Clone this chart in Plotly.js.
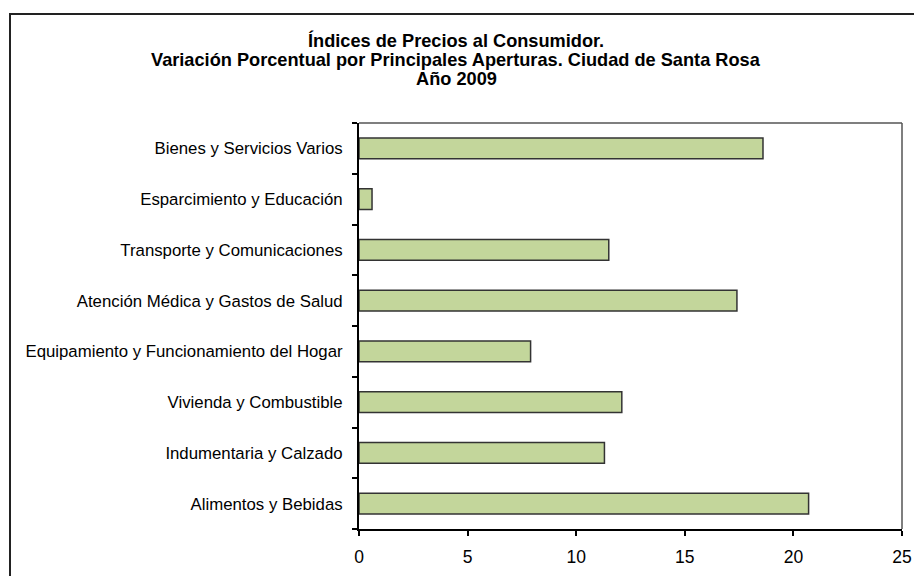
<!DOCTYPE html>
<html>
<head>
<meta charset="utf-8">
<script src="https://cdn.plot.ly/plotly-3.0.1.min.js"></script>
<style>
html,body{margin:0;padding:0;background:#fff;overflow:hidden;}
#chart{width:914px;height:576px;}
</style>
</head>
<body>
<div id="chart"></div>
<script>
var categories = [
  "Alimentos y Bebidas",
  "Indumentaria y Calzado",
  "Vivienda y Combustible",
  "Equipamiento y Funcionamiento del Hogar",
  "Atención Médica y Gastos de Salud",
  "Transporte y Comunicaciones",
  "Esparcimiento y Educación",
  "Bienes y Servicios Varios"
];
var values = [20.7, 11.3, 12.1, 7.9, 17.4, 11.5, 0.6, 18.6];
var xTickVals = [0, 5, 10, 15, 20, 25];
var titleLines = [
  "Índices de Precios al Consumidor.",
  "Variación Porcentual por Principales Aperturas. Ciudad de Santa Rosa",
  "Año 2009"
];

var W = 914, H = 576;
var mL = 359, mR = 12, mT = 123, mB = 47;
var pw = W - mL - mR, ph = H - mT - mB;
var FONT = "Liberation Sans, Arial, sans-serif";

function px2x(p) { return (p - mL) / pw; }
function px2y(p) { return (H - mB - p) / ph; }

var titleY = [40, 59.5, 79];
var annotations = titleLines.map(function (t, i) {
  return {
    text: "<b>" + t + "</b>", showarrow: false,
    xref: "paper", yref: "paper",
    x: px2x(456), y: px2y(titleY[i]),
    xanchor: "center", yanchor: "middle",
    font: {family: FONT, size: 18.2, color: "#000"}
  };
});

var trace = {
  type: "bar",
  orientation: "h",
  x: values,
  y: categories,
  marker: {color: "#C3D69B", line: {color: "#333333", width: 1.5}},
  hoverinfo: "x+y"
};

var layout = {
  width: W, height: H,
  margin: {l: mL, r: mR, t: mT, b: mB, pad: 0},
  paper_bgcolor: "#ffffff",
  plot_bgcolor: "#ffffff",
  showlegend: false,
  bargap: 0.59,
  font: {family: FONT, size: 16.5, color: "#000"},
  annotations: annotations,
  xaxis: {
    range: [0, 25],
    tickvals: xTickVals,
    ticktext: xTickVals.map(String),
    showgrid: false, zeroline: false,
    showline: true, linecolor: "#000", linewidth: 2,
    ticks: "outside", ticklen: 5, tickwidth: 2, tickcolor: "#000",
    ticklabelstandoff: 6,
    tickfont: {size: 17.5},
    fixedrange: true
  },
  yaxis: {
    type: "category",
    range: [-0.5, 7.5],
    showgrid: false, zeroline: false,
    showline: true, linecolor: "#000", linewidth: 2,
    ticks: "outside", ticklen: 5, tickwidth: 2, tickcolor: "#000",
    tickson: "boundaries",
    ticklabelstandoff: 11,
    tickfont: {size: 16.8},
    fixedrange: true
  },
  shapes: [
    {type: "line", xref: "paper", yref: "paper", x0: 0, x1: 1, y0: 1, y1: 1,
     line: {color: "#555", width: 1.5}, layer: "below"},
    {type: "line", xref: "paper", yref: "paper", x0: 1, x1: 1, y0: 0, y1: 1,
     line: {color: "#555", width: 1.5}, layer: "below"},
    {type: "rect", xref: "paper", yref: "paper",
     x0: px2x(10), x1: px2x(930),
     y0: px2y(620), y1: px2y(14),
     line: {color: "#222", width: 2}, fillcolor: "rgba(0,0,0,0)", layer: "below"}
  ]
};

Plotly.newPlot("chart", [trace], layout, {displayModeBar: false, staticPlot: true});
</script>
</body>
</html>
